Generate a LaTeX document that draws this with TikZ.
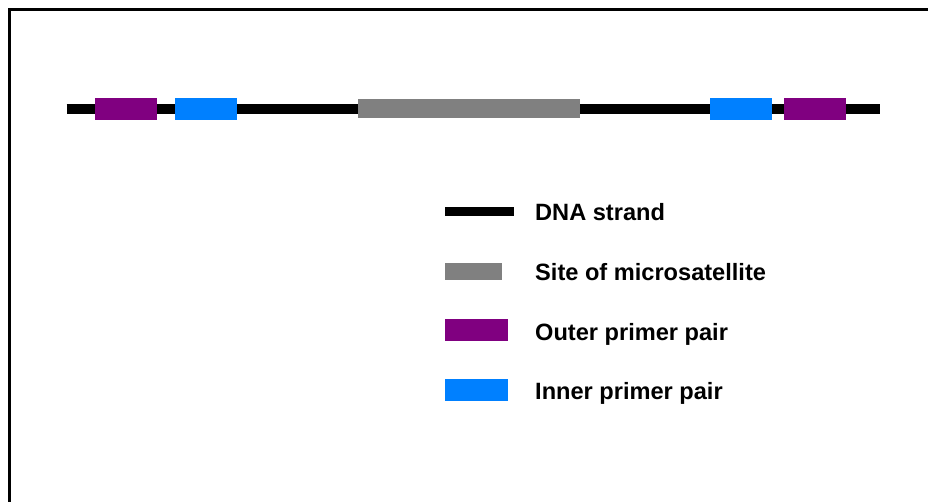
\documentclass[tikz,border=0pt]{standalone}
\usepackage{fontspec}
\setmainfont{Liberation Sans}
\definecolor{primerpurple}{HTML}{800080}
\definecolor{primerblue}{HTML}{0080FF}
\definecolor{satgray}{HTML}{808080}
\begin{document}
\begin{tikzpicture}[x=1pt,y=-1pt,
  box/.style={draw=none, inner sep=0pt, anchor=north west, minimum height=22pt},
  lbl/.style={font=\fontsize{23.6}{28}\selectfont\bfseries, anchor=base west, inner sep=0pt}]
\useasboundingbox (0,0) rectangle (928,502);
% frame
\draw[line width=3.2pt] (9.5,505) -- (9.5,9.5) -- (932,9.5);
% DNA strand
\coordinate (s0) at (66.7,109.3);
\coordinate (s1) at (880,109.3);
\draw[line width=10pt] (s0) -- (s1);
% primers and site
\node[box, fill=primerpurple, minimum width=62pt] (po1) at (95,98) {};
\node[box, fill=primerblue, minimum width=62pt] (pi1) at (175,98) {};
\node[box, fill=satgray, minimum width=222pt, minimum height=19pt] (site) at (357.3,99.3) {};
\node[box, fill=primerblue, minimum width=62pt] (pi2) at (710,98) {};
\node[box, fill=primerpurple, minimum width=62.7pt] (po2) at (783.3,98) {};
% legend
\node[box, fill=black, minimum width=68.3pt, minimum height=8.7pt] (kdna) at (445,207.3) {};
\node[box, fill=satgray, minimum width=56.7pt, minimum height=17.3pt] (ksite) at (445,262.7) {};
\node[box, fill=primerpurple, minimum width=62.3pt] (kouter) at (445,318.5) {};
\node[box, fill=primerblue, minimum width=62.3pt] (kinner) at (445,378.5) {};
\node[lbl] (tdna) at (535,220.3) {DNA strand};
\node[lbl] (tsite) at (535,280.5) {Site of microsatellite};
\node[lbl] (touter) at (535,340.7) {Outer primer pair};
\node[lbl] (tinner) at (535,399) {Inner primer pair};
\end{tikzpicture}
\end{document}
